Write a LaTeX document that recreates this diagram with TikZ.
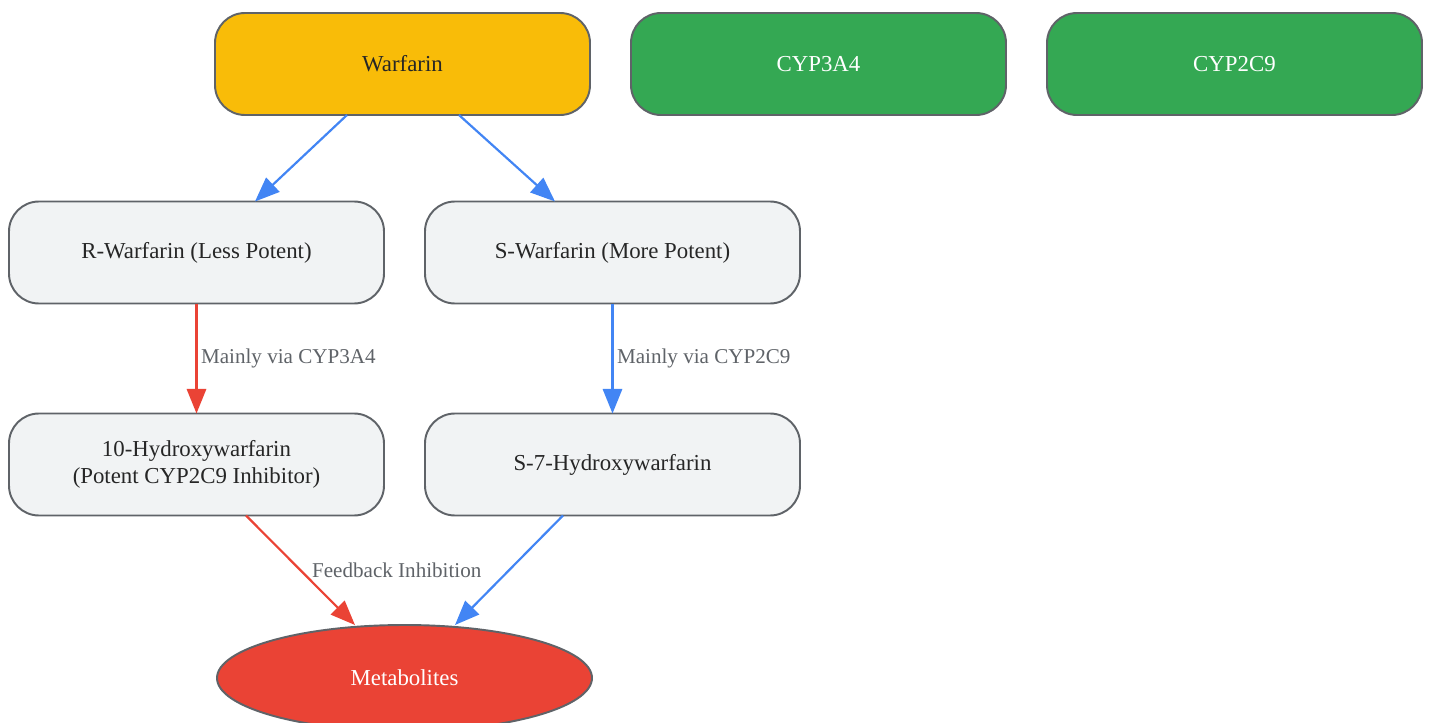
\documentclass[tikz,border=0pt]{standalone}
\usepackage{fontspec}
\setmainfont{Liberation Serif}
\usepackage{xcolor}
\usetikzlibrary{shapes,arrows,positioning,calc,arrows.meta}
\definecolor{warfcol}{RGB}{249,188,8}
\definecolor{cypcol}{RGB}{52,168,83}
\definecolor{metcol}{RGB}{234,67,53}
\definecolor{pathblue}{RGB}{66,133,244}
\definecolor{pathred}{RGB}{234,67,53}
\definecolor{boxfill}{RGB}{241,243,244}
\definecolor{boxline}{RGB}{95,99,104}
\begin{document}
\begin{tikzpicture}[node distance=0.82cm, auto,
        block/.style={rectangle, rounded corners=0.6cm, draw=boxline, line width=1.1pt, outer sep=0pt, fill=boxfill, minimum width=7.5cm, minimum height=2.04cm, align=center, font=\fontsize{13}{15.7}\selectfont, text=black!85},
        enzyme/.style={block, fill=cypcol, text=white},
        line/.style={draw, -{Triangle[length=14pt, width=11pt]}, line width=1.25pt},
        lbl/.style={font=\fontsize{12}{14}\selectfont, text=boxline, inner sep=2pt}]
        \useasboundingbox (0,0) rectangle (28.62,-14.46);

        \node [block, fill=warfcol] (warfarin) at (8.05,-1.28) {Warfarin};
        \node [enzyme, right=of warfarin] (cyp3a4) {CYP3A4};
        \node [enzyme, right=of cyp3a4] (cyp2c9) {CYP2C9};

        \node [block] (rwarf) at (3.93,-5.05) {R-Warfarin (Less Potent)};
        \node [block, right=of rwarf] (swarf) {S-Warfarin (More Potent)};

        \node [block, below=2.2cm of rwarf] (hydro10) {10-Hydroxywarfarin\\(Potent CYP2C9 Inhibitor)};
        \node [block, below=2.2cm of swarf] (hydro7) {S-7-Hydroxywarfarin};

        \node [ellipse, draw=boxline, line width=1.1pt, outer sep=0pt, fill=metcol, text=white, minimum width=7.5cm, minimum height=2.12cm, font=\fontsize{13}{15.7}\selectfont] (metab) at (8.09,-13.56) {Metabolites};

        \path [line, pathblue] ([xshift=-1.11cm]warfarin.south) -- ([xshift=1.17cm]rwarf.north);
        \path [line, pathblue] ([xshift=1.13cm]warfarin.south) -- ([xshift=-1.15cm]swarf.north);

        \path [line, pathred] (rwarf) -- node [lbl, right] {Mainly via CYP3A4} (hydro10);
        \path [line, pathblue] (swarf) -- node [lbl, right] {Mainly via CYP2C9} (hydro7);

        \path [line, pathred] ([xshift=0.99cm]hydro10.south) -- node [lbl, right, xshift=4pt] {Feedback Inhibition} ([xshift=-0.99cm]metab.north);
        \path [line, pathblue] ([xshift=-0.99cm]hydro7.south) -- ([xshift=1.01cm]metab.north);

    \end{tikzpicture}
\end{document}
